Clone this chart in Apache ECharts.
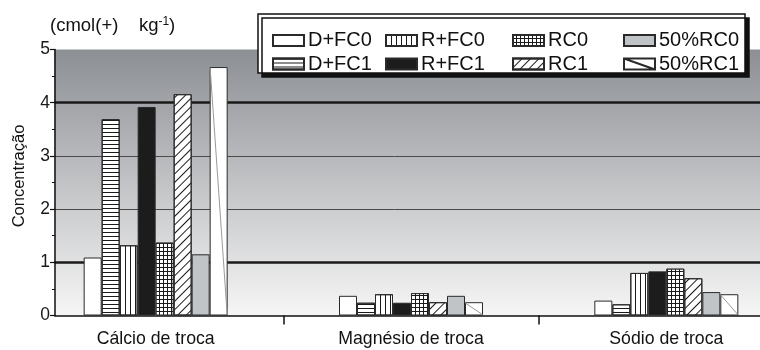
<!DOCTYPE html>
<html><head><meta charset="utf-8">
<script src="https://cdn.jsdelivr.net/npm/echarts@6/dist/echarts.min.js"></script>
<style>html,body{margin:0;padding:0;background:#fff}#c{width:760px;height:350px}</style>
</head><body><div id="c"></div>
<script>
// ---- data ----
const categories = ['Cálcio de troca', 'Magnésio de troca', 'Sódio de troca'];
const seriesNames = ['D+FC0', 'D+FC1', 'R+FC0', 'R+FC1', 'RC0', 'RC1', '50%RC0', '50%RC1'];
const dfc0  = [1.09, 0.37, 0.28];
const dfc1  = [3.69, 0.24, 0.21];
const rfc0  = [1.32, 0.40, 0.80];
const rfc1  = [3.92, 0.24, 0.83];
const rc0   = [1.37, 0.42, 0.88];
const rc1   = [4.16, 0.25, 0.70];
const rc50_0 = [1.15, 0.37, 0.44];
const rc50_1 = [4.67, 0.25, 0.40];
const yTicks = [0, 1, 2, 3, 4, 5];
const yTitle = 'Concentração';
const unitText = '(cmol(+)    kg{s|-1})';

// ---- style ----
const FONT = 'Liberation Sans, Arial, Helvetica, sans-serif';
const BAR_W = 18;
const T = 'rgba(0,0,0,0)';
const values = [dfc0, dfc1, rfc0, rfc1, rc0, rc1, rc50_0, rc50_1];
const styles = [
  {color: '#ffffff'},
  {color: '#ffffff', decal: {symbol: 'rect', symbolSize: 1, dashArrayX: [10, 0], dashArrayY: [1, 3], color: '#1a1a1a'}},
  {color: '#ffffff', decal: {symbol: 'rect', symbolSize: 1, dashArrayX: [1, 4], dashArrayY: [10, 0], color: '#1a1a1a'}},
  {color: '#1c1c1c'},
  {color: '#1a1a1a', decal: {symbol: 'rect', symbolSize: 1, dashArrayX: [3, 1], dashArrayY: [3, 1], color: '#ffffff'}},
  {color: '#ffffff', decal: {symbol: 'rect', symbolSize: 1, dashArrayX: [10, 0], dashArrayY: [1, 5], rotation: -Math.PI / 4, color: '#1a1a1a'}},
  {color: '#c0c4c6'},
  {color: '#ffffff'}
];

const series = seriesNames.map((n, k) => ({
  name: n, type: 'bar', data: values[k], barWidth: BAR_W, barGap: '0%',
  xAxisIndex: 0, yAxisIndex: 0,
  itemStyle: Object.assign({borderColor: '#2a2a2a', borderWidth: 1}, styles[k]),
  emphasis: {disabled: true}
}));
// diagonal line inside the 50%RC1 bars (drawn through the axes)
series.push({
  type: 'custom', name: '50%RC1 diag', z: 3, silent: true,
  xAxisIndex: 0, yAxisIndex: 0,
  data: rc50_1.map((v, i) => [i, v]),
  renderItem: function (params, api) {
    const i = api.value(0), v = api.value(1);
    const top = api.coord([i, v]);
    const base = api.coord([i, 0]);
    return {type: 'line', shape: {x1: top[0] + 3 * BAR_W + 0.5, y1: top[1] + 1, x2: top[0] + 4 * BAR_W - 0.5, y2: base[1] - 1},
      style: {stroke: '#9a9a9a', lineWidth: 1}};
  }
});

function legendCol(names, left) {
  return {
    orient: 'vertical', left: left, top: 30.5, padding: 0, itemGap: 3.5,
    itemWidth: 31, itemHeight: 11, icon: 'rect', selectedMode: false, z: 10,
    data: names.map(n => n === '50%RC1' ? {name: n, icon: 'path://M0,0H31V11H0ZM0,0L31,11'} : {name: n}),
    textStyle: {fontSize: 20, lineHeight: 14, color: '#111', fontFamily: FONT, padding: [0, 0, 0, -1]}
  };
}

const option = {
  animation: false,
  textStyle: {fontFamily: FONT},
  grid: {
    left: 28, width: 766, top: 49.5, bottom: 34.5, show: true, borderWidth: 0,
    outerBoundsMode: 'none', containLabel: false,
    backgroundColor: {type: 'linear', x: 0, y: 0, x2: 0, y2: 1,
      colorStops: [{offset: 0, color: '#8c8f94'}, {offset: 1, color: '#f6f6f6'}]}
  },
  legend: [
    legendCol(['D+FC0', 'D+FC1'], 272),
    legendCol(['R+FC0', 'R+FC1'], 385),
    legendCol(['RC0', 'RC1'], 512),
    legendCol(['50%RC0', '50%RC1'], 623)
  ],
  xAxis: {
    type: 'category', data: categories, boundaryGap: true,
    axisLine: {lineStyle: {color: '#111', width: 1.5}},
    axisTick: {show: true, length: 9, lineStyle: {color: '#111', width: 1.5}},
    axisLabel: {fontSize: 17.7, color: '#111', margin: 15}
  },
  yAxis: [
    {type: 'value', position: 'left', min: yTicks[0], max: yTicks[yTicks.length - 1], interval: 1,
      axisLine: {show: false}, axisTick: {show: false}, axisLabel: {show: false},
      splitLine: {show: true, showMinLine: true, showMaxLine: true,
        lineStyle: {width: 1, color: [T, T, '#4a4a4a', '#4a4a4a', T, T]}}},
    {type: 'value', position: 'left', min: yTicks[0], max: yTicks[yTicks.length - 1], interval: 1, offset: -27, z: 4,
      axisLine: {show: true, lineStyle: {color: '#111', width: 1.5}},
      axisTick: {show: true, length: 5, lineStyle: {color: '#111', width: 1.2}},
      minorTick: {show: true, splitNumber: 2, length: 3, lineStyle: {color: '#111', width: 1}},
      axisLabel: {fontSize: 17.5, color: '#1a1a1a', margin: 5},
      splitLine: {show: false}},
    {type: 'value', position: 'left', min: yTicks[0], max: yTicks[yTicks.length - 1], interval: 1,
      axisLine: {show: false}, axisTick: {show: false}, axisLabel: {show: false},
      splitLine: {show: true, showMinLine: true, showMaxLine: true,
        lineStyle: {width: 2.5, color: [T, '#1a1a1a', T, T, '#1a1a1a', T]}}}
  ],
  graphic: [
    {type: 'rect', silent: true, z: 1, shape: {x: 0, y: 40, width: 54.3, height: 292}, style: {fill: '#fff'}},
    {type: 'rect', silent: true, z: 5, shape: {x: 258, y: 14, width: 487, height: 59},
      style: {fill: '#fff', stroke: '#111', lineWidth: 1.5, shadowColor: '#111', shadowOffsetX: 4, shadowOffsetY: 4, shadowBlur: 0.01}},
    {type: 'text', silent: true, z: 6, x: 50, y: 26,
      style: {text: unitText, fontSize: 18.5, fontFamily: FONT, fill: '#111', textAlign: 'left', textVerticalAlign: 'middle',
        rich: {s: {fontSize: 12, fontFamily: FONT, fill: '#111', verticalAlign: 'top', padding: [0, 0, 9, 0]}}}},
    {type: 'text', silent: true, z: 6, x: 19, y: 176, rotation: Math.PI / 2,
      style: {text: yTitle, fontSize: 16.5, fontFamily: FONT, fill: '#111', textAlign: 'center', textVerticalAlign: 'middle'}}
  ],
  series: series
};
const chart = echarts.init(document.getElementById('c'), null, {renderer: 'canvas'});
chart.setOption(option);
</script>
</body></html>
